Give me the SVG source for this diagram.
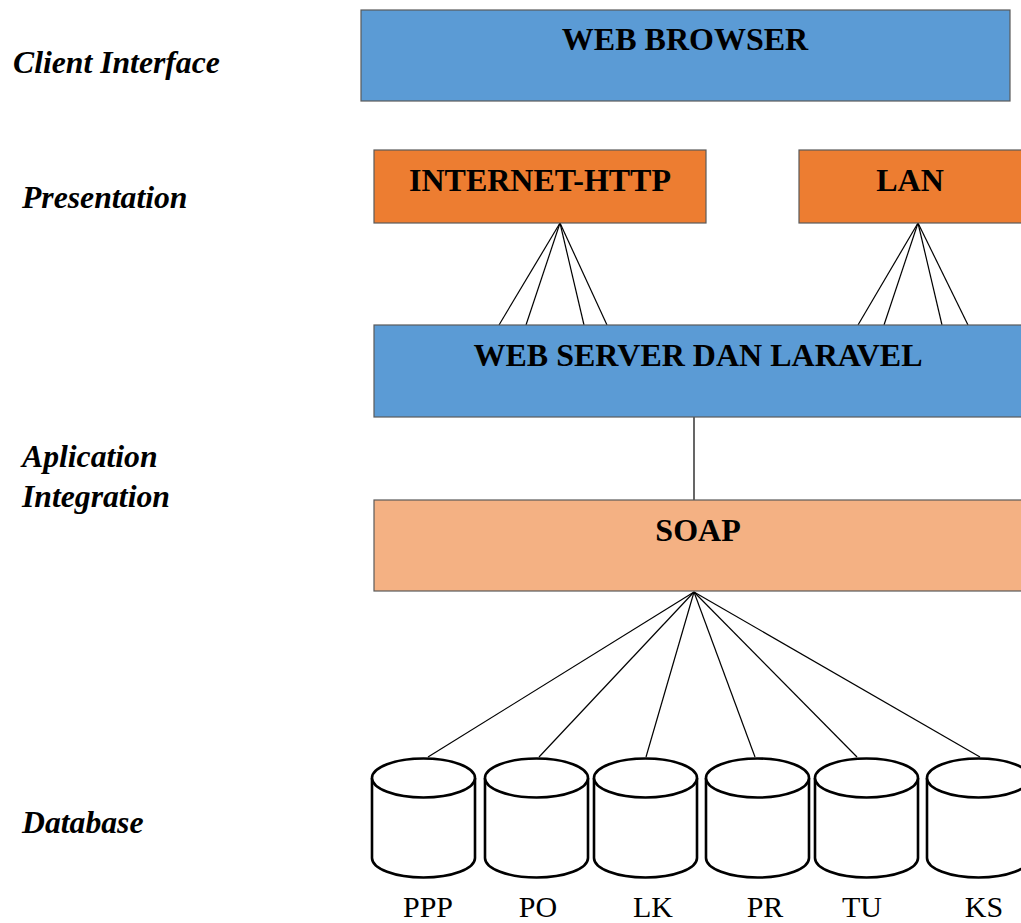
<svg xmlns="http://www.w3.org/2000/svg" width="1021" height="923" viewBox="0 0 1021 923">
  <style>
    .box { stroke: #5a5a5a; stroke-width: 1.2; }
    .blue { fill: #5b9bd5; }
    .orange { fill: #ed7d31; }
    .peach { fill: #f4b183; }
    .title { font-family: "Liberation Serif", "Times New Roman", serif; font-weight: bold; font-size: 32px; fill: #000; text-anchor: middle; }
    .layer { font-family: "Liberation Serif", "Times New Roman", serif; font-weight: bold; font-style: italic; font-size: 31.7px; fill: #000; }
    .dbname { font-family: "Liberation Serif", "Times New Roman", serif; font-size: 30px; fill: #000; text-anchor: middle; }
    .link { stroke: #000; stroke-width: 1.2; fill: none; }
    .cyl { fill: #fff; stroke: #000; stroke-width: 2.6; }
  </style>
  <defs>
    <!-- database cylinder, origin at top-left of its bounding box -->
    <g id="cylinder">
      <path class="cyl" d="M0,20 L0,100 A51.5,19.5 0 0 0 103,100 L103,20"/>
      <ellipse class="cyl" cx="51.5" cy="20" rx="51.5" ry="19.5"/>
    </g>
  </defs>
  <rect width="1021" height="923" fill="#fff"/>

  <!-- layer captions -->
  <g id="layer-labels">
    <text class="layer" x="13" y="73">Client Interface</text>
    <text class="layer" x="22" y="208">Presentation</text>
    <text class="layer" x="22" y="467">Aplication</text>
    <text class="layer" x="22" y="507">Integration</text>
    <text class="layer" x="22" y="833">Database</text>
  </g>

  <!-- connectors -->
  <g id="connectors">
    <line class="link" x1="560" y1="223" x2="499" y2="325"/>
    <line class="link" x1="560" y1="223" x2="526" y2="325"/>
    <line class="link" x1="560" y1="223" x2="584" y2="325"/>
    <line class="link" x1="560" y1="223" x2="607" y2="325"/>
    <line class="link" x1="918" y1="223" x2="858" y2="325"/>
    <line class="link" x1="918" y1="223" x2="884" y2="325"/>
    <line class="link" x1="918" y1="223" x2="942" y2="325"/>
    <line class="link" x1="918" y1="223" x2="968" y2="325"/>
    <line class="link" x1="694" y1="417" x2="694" y2="500"/>
    <line class="link" x1="694" y1="592" x2="428" y2="757"/>
    <line class="link" x1="694" y1="592" x2="539" y2="757"/>
    <line class="link" x1="694" y1="592" x2="646" y2="757"/>
    <line class="link" x1="694" y1="592" x2="755" y2="757"/>
    <line class="link" x1="694" y1="592" x2="857" y2="757"/>
    <line class="link" x1="694" y1="592" x2="980" y2="757"/>
  </g>

  <g id="web-browser">
    <rect class="box blue" x="361" y="10" width="649" height="91"/>
    <text class="title" x="685" y="50">WEB BROWSER</text>
  </g>
  <g id="internet-http">
    <rect class="box orange" x="374" y="150" width="332" height="73"/>
    <text class="title" x="540" y="191">INTERNET-HTTP</text>
  </g>
  <g id="lan">
    <rect class="box orange" x="799" y="150" width="230" height="73"/>
    <text class="title" x="910" y="191">LAN</text>
  </g>
  <g id="web-server">
    <rect class="box blue" x="374" y="325" width="660" height="92"/>
    <text class="title" x="698" y="366">WEB SERVER DAN LARAVEL</text>
  </g>
  <g id="soap">
    <rect class="box peach" x="374" y="500" width="660" height="91"/>
    <text class="title" x="698" y="541">SOAP</text>
  </g>

  <g id="db-ppp">
    <use href="#cylinder" x="372" y="758"/>
    <text class="dbname" x="428" y="917">PPP</text>
  </g>
  <g id="db-po">
    <use href="#cylinder" x="485" y="758"/>
    <text class="dbname" x="538" y="917">PO</text>
  </g>
  <g id="db-lk">
    <use href="#cylinder" x="594" y="758"/>
    <text class="dbname" x="653" y="917">LK</text>
  </g>
  <g id="db-pr">
    <use href="#cylinder" x="706" y="758"/>
    <text class="dbname" x="765" y="917">PR</text>
  </g>
  <g id="db-tu">
    <use href="#cylinder" x="815" y="758"/>
    <text class="dbname" x="862" y="917">TU</text>
  </g>
  <g id="db-ks">
    <use href="#cylinder" x="927" y="758"/>
    <text class="dbname" x="984" y="917">KS</text>
  </g>
</svg>
